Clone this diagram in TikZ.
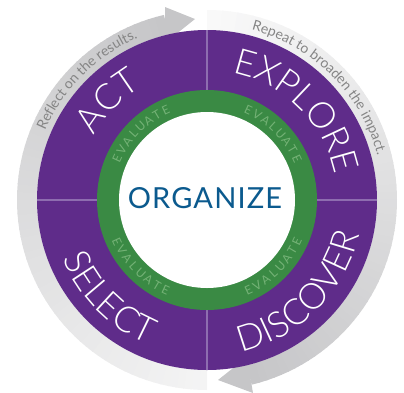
\documentclass[tikz,border=0pt]{standalone}
\usepackage{fontspec}
\setmainfont{Lato}
\newfontfamily\lightfont{Lato Light}
\usetikzlibrary{decorations.text}
\definecolor{cpurple}{HTML}{5F2C8A}
\definecolor{cgreen}{HTML}{3A8A44}
\definecolor{cevgreen}{HTML}{74B276}
\definecolor{cblue}{HTML}{0B5A8E}
\definecolor{cgray}{HTML}{C6C6C8}
\definecolor{cgraytext}{HTML}{858585}
\definecolor{cdivider}{HTML}{8E6DB0}
\newcommand\wordfont{\lightfont\fontsize{36}{36}\selectfont}
\newcommand\notefont{\fontsize{14}{14}\selectfont}
\tikzset{
  divider/.style={draw=cdivider, line width=1.1pt},
  evletter/.style={inner sep=0pt, text=cevgreen, font=\fontsize{12}{12}\selectfont},
}
\begin{document}
\begin{tikzpicture}
\useasboundingbox (-207pt,-192pt) rectangle (197pt,200pt);
% gray ring, left arrow (tail at bottom, head at top)
\foreach \i in {0,...,71} {
  \pgfmathsetmacro\a{270-\i*166.5/72}
  \pgfmathsetmacro\b{\a-166.5/72-0.4}
  \pgfmathtruncatemacro\p{20+80*\i/71}
  \fill[cgray!\p!white] (\a:170pt) arc[start angle=\a,end angle=\b,radius=170pt] -- (\b:190pt) arc[start angle=\b,end angle=\a,radius=190pt] -- cycle;
}
% gray ring, right arrow (tail at top, head at bottom)
\foreach \i in {0,...,71} {
  \pgfmathsetmacro\a{90-\i*166/72}
  \pgfmathsetmacro\b{\a-166/72-0.4}
  \pgfmathtruncatemacro\p{10+90*\i/71}
  \fill[cgray!\p!white] (\a:170pt) arc[start angle=\a,end angle=\b,radius=170pt] -- (\b:190pt) arc[start angle=\b,end angle=\a,radius=190pt] -- cycle;
}
% arrowheads
\fill[cgray] (-42pt,193pt) -- (-12pt,181pt) -- (-42pt,157pt) -- cycle;
\fill[cgray] (40pt,-157pt) -- (11pt,-180pt) -- (46pt,-193pt) -- cycle;
% purple disc and dividers
\fill[cpurple] (0,0) circle[radius=170pt];
\draw[divider] (90:110pt) -- (90:170pt);
\draw[divider] (180:110pt) -- (180:170pt);
\draw[divider] (270:110pt) -- (270:170pt);
\draw[divider] (0:110pt) -- (0:170pt);
% green ring and white centre
\fill[cgreen] (0,0) circle[radius=110pt];
\fill[white] (0,0) circle[radius=88pt];
\node[inner sep=0pt, text=cblue, font=\fontsize{29}{29}\selectfont\addfontfeature{LetterSpace=4}] (org) at (-2pt,2pt) {ORGANIZE};
% big words
\path[decorate, decoration={text along path, text align=center, text color=white, text={|\wordfont|ACT}}]
  (180:130pt) arc[start angle=180,end angle=90,radius=130pt];
\path[decorate, decoration={text along path, text align=center, text color=white, text={|\wordfont|EXPLORE}}]
  (90:130pt) arc[start angle=90,end angle=0,radius=130pt];
\path[decorate, decoration={text along path, text align=center, text color=white, text={|\wordfont|SELECT}}]
  (180:156pt) arc[start angle=180,end angle=270,radius=156pt];
\path[decorate, decoration={text along path, text align=center, text color=white, text={|\wordfont|DISCOVER}}]
  (270:156pt) arc[start angle=270,end angle=360,radius=156pt];
% notes on the gray ring
\path[decorate, decoration={text along path, text align=center, text color=cgraytext, text={|\notefont|Reflect on the results.}}]
  (180:176pt) arc[start angle=180,end angle=90,radius=176pt];
\path[decorate, decoration={text along path, text align=center, text color=cgraytext, text={|\notefont|Repeat to broaden the impact.}}]
  (90:176pt) arc[start angle=90,end angle=0,radius=176pt];
% EVALUATE labels
\foreach \c/\q in {135/a,45/b} {
  \foreach \l [count=\k] in {E,V,A,L,U,A,T,E} {
    \pgfmathsetmacro\ang{\c+(4.5-\k)*5.8}
    \node[evletter, rotate=\ang-90] (ev\q\k) at (\ang:99pt) {\l};
  }
}
\foreach \c/\q in {225/c,315/d} {
  \foreach \l [count=\k] in {E,V,A,L,U,A,T,E} {
    \pgfmathsetmacro\ang{\c+(\k-4.5)*5.8}
    \node[evletter, rotate=\ang+90] (ev\q\k) at (\ang:99pt) {\l};
  }
}
\end{tikzpicture}
\end{document}
